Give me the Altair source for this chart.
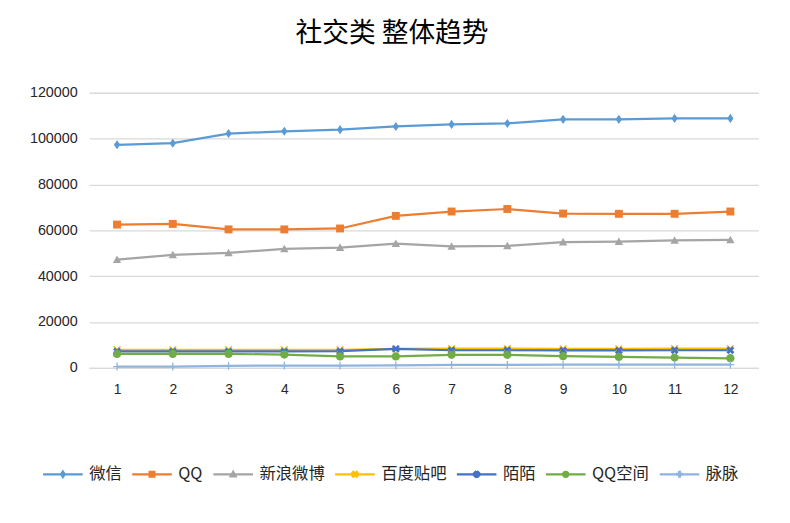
import altair as alt
import pandas as pd

months = list(range(1, 13))
series = ["微信", "QQ", "新浪微博", "百度贴吧", "陌陌", "QQ空间", "脉脉"]

wechat = [97300, 98000, 102200, 103200, 103900, 105300, 106200, 106600, 108400, 108400, 108800, 108800]
qq = [62500, 62800, 60400, 60400, 60800, 66300, 68200, 69300, 67300, 67200, 67200, 68200]
weibo = [47200, 49300, 50200, 51900, 52500, 54200, 53000, 53200, 54900, 55100, 55600, 55800]
tieba = [7900, 7900, 7900, 7900, 7900, 8300, 8400, 8400, 8300, 8300, 8400, 8400]
momo = [7200, 7200, 7200, 7200, 7300, 8300, 7700, 7700, 7600, 7600, 7700, 7700]
qzone = [6100, 6100, 6100, 5800, 5000, 5000, 5700, 5700, 5100, 4800, 4500, 4200]
maimai = [600, 600, 900, 1000, 1000, 1100, 1300, 1300, 1400, 1400, 1400, 1400]

values = [wechat, qq, weibo, tieba, momo, qzone, maimai]
colors = ["#5B9BD5", "#ED7D31", "#A5A5A5", "#FFC000", "#4472C4", "#70AD47", "#8FB4DE"]
y_ticks = [0, 20000, 40000, 60000, 80000, 100000, 120000]
title_text = "社交类 整体趋势"

# marker outlines (unit coordinates)
diamond = [(0, -1.15), (0.8, 0), (0, 1.15), (-0.8, 0)]
square = [(-1, -1), (1, -1), (1, 1), (-1, 1)]
triangle = [(0, -1.05), (1.05, 0.85), (-1.05, 0.85)]
thin_x = [(-1, -0.72), (-0.72, -1), (0, -0.28), (0.72, -1), (1, -0.72), (0.28, 0),
          (1, 0.72), (0.72, 1), (0, 0.28), (-0.72, 1), (-1, 0.72), (-0.28, 0)]
bold_x = [(-1, -0.5), (-0.5, -1), (0, -0.5), (0.5, -1), (1, -0.5), (0.5, 0),
          (1, 0.5), (0.5, 1), (0, 0.5), (-0.5, 1), (-1, 0.5), (-0.5, 0)]
plus = [(-1, -0.16), (-0.16, -0.16), (-0.16, -1), (0.16, -1), (0.16, -0.16), (1, -0.16),
        (1, 0.16), (0.16, 0.16), (0.16, 1), (-0.16, 1), (-0.16, 0.16), (-1, 0.16)]
markers = [diamond, square, triangle, thin_x, bold_x, "circle", plus]

SYM = 1600         # legend symbol size (40px wide)
POINT_SIZE = 64    # plot marker size
LK = 0.12          # legend marker scale inside the 40px symbol box


def poly(pts, k):
    return "M" + "L".join(f"{x * k:.3f},{y * k:.3f}" for x, y in pts) + "Z"


def circ(r):
    return f"M{-r:.3f},0A{r:.3f},{r:.3f} 0 1,0 {r:.3f},0A{r:.3f},{r:.3f} 0 1,0 {-r:.3f},0Z"


plot_shapes = [(circ(1.05) if m == "circle" else poly(m, 1)) for m in markers]
legend_shapes = ["M-1,0L1,0" + (circ(LK * 1.05) if m == "circle" else poly(m, LK)) for m in markers]

rows = []
for i, (s, vals) in enumerate(zip(series, values)):
    for m, v in zip(months, vals):
        rows.append({"series": s, "idx": i, "month": m, "value": v})
df = pd.DataFrame(rows)

NUM_FONT = "Liberation Sans"
CJK_FONT = "Noto Sans CJK SC"

x_enc = alt.X(
    "month:O",
    scale=alt.Scale(type="point", padding=0.5),
    axis=alt.Axis(
        title=None, labelAngle=0, ticks=False, grid=False, domain=True,
        domainColor="#d9d9d9", domainWidth=1.3, labelFont=NUM_FONT, labelFontSize=14,
        labelColor="#262626", labelPadding=15,
    ),
)
y_enc = alt.Y(
    "value:Q",
    scale=alt.Scale(domain=[0, 120000], nice=False),
    axis=alt.Axis(
        title=None, values=y_ticks, format="d", ticks=False, domain=False,
        grid=True, gridColor="#d9d9d9", gridWidth=1.3, labelFont=NUM_FONT,
        labelFontSize=14.5, labelColor="#262626", labelPadding=12,
    ),
)

color_series = alt.Color("series:N", scale=alt.Scale(domain=series, range=colors), legend=None)

lines = alt.Chart(df).mark_line(strokeWidth=2.25).encode(
    x=x_enc, y=y_enc, color=color_series,
)

points = alt.Chart(df).mark_point(filled=True, size=POINT_SIZE, opacity=1, strokeWidth=0).encode(
    x=x_enc, y=y_enc, color=color_series,
    shape=alt.Shape("series:N", scale=alt.Scale(domain=series, range=plot_shapes), legend=None),
)

names_js = "[" + ",".join(f"'{s}'" for s in series) + "]"
idx_domain = list(range(len(series)))
legend = alt.Legend(
    title=None, orient="none", direction="horizontal", legendX=-48, legendY=364,
    symbolSize=SYM, symbolStrokeWidth=2.25, symbolOpacity=1,
    labelExpr=f"{names_js}[datum.value]", labelFont=CJK_FONT, labelFontSize=16.5,
    labelColor="#262626", labelOffset=5, columnPadding=6,
)

# carrier layer for the legend only: zero-size marks, legend symbols = line + marker
legend_layer = alt.Chart(df).mark_point(filled=True, size=0, strokeWidth=2.25).encode(
    x=x_enc, y=y_enc,
    color=alt.Color("idx:N", scale=alt.Scale(domain=idx_domain, range=colors), legend=legend),
    stroke=alt.Stroke("idx:N", scale=alt.Scale(domain=idx_domain, range=colors), legend=legend),
    shape=alt.Shape("idx:N", scale=alt.Scale(domain=idx_domain, range=legend_shapes), legend=legend),
)

chart = (
    alt.layer(lines, points, legend_layer)
    .resolve_scale(color="independent", shape="independent", stroke="independent")
    .properties(
        width=676, height=278,
        autosize="none",
        padding={"left": 82, "top": 83, "right": 24, "bottom": 146},
        title=alt.Title(
            title_text, font=CJK_FONT, fontSize=27, fontWeight="normal", color="#000000",
            anchor="middle", dx=-32, offset=37,
        ),
        background="white",
    )
    .configure_view(stroke=None)
)

chart.save("out.html", embed_options={"renderer": "svg", "actions": False})
